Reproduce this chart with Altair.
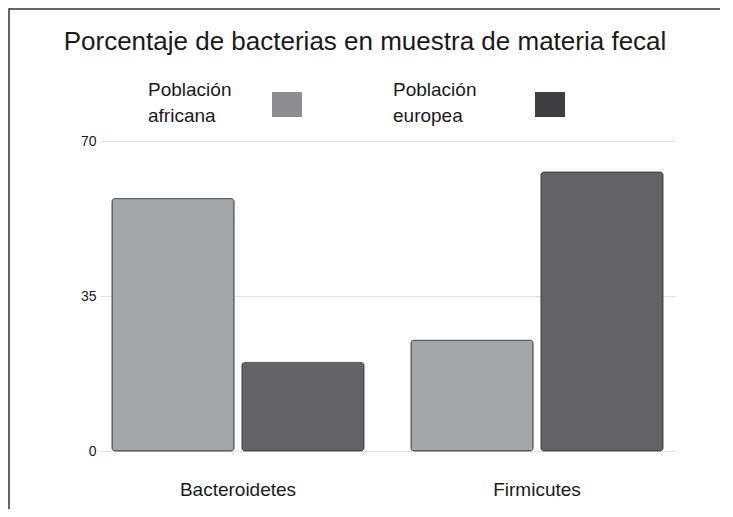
import altair as alt
import pandas as pd

title = "Porcentaje de bacterias en muestra de materia fecal"
grupos = ["Bacteroidetes", "Firmicutes"]
poblaciones = ["Población africana", "Población europea"]
leyenda = ["Población\nafricana", "Población\neuropea"]
africana = [57, 25]
europea = [20, 63]
colores_barras = ["#a4a6a9", "#636366"]
colores_leyenda = ["#8e8e90", "#3e3e40"]
y_ticks = [0, 35, 70]

rows = []
for i, g in enumerate(grupos):
    rows.append({"Grupo": g, "Población": poblaciones[0], "Valor": africana[i]})
    rows.append({"Grupo": g, "Población": poblaciones[1], "Valor": europea[i]})
df = pd.DataFrame(rows)

FONT = "Liberation Sans, Arial"

bars = alt.Chart(df).mark_bar(
    cornerRadius=3, stroke="#3a3a3a", strokeWidth=0.8
).encode(
    x=alt.X("Grupo:N", sort=grupos, title=None,
            scale=alt.Scale(paddingInner=0.157, paddingOuter=0.04),
            axis=alt.Axis(labelAngle=0, labelFontSize=19, labelColor="#1a1a1a",
                          labelPadding=29, ticks=False, domain=False, grid=False,
                          labelFont=FONT)),
    xOffset=alt.XOffset("Población:N", sort=poblaciones,
                        scale=alt.Scale(paddingInner=0.06)),
    y=alt.Y("Valor:Q", title=None,
            scale=alt.Scale(domain=[0, 70], nice=False),
            axis=alt.Axis(values=y_ticks, labelFontSize=14, labelColor="#1a1a1a",
                          ticks=False, domain=False, labelPadding=4,
                          gridColor="#e2e2e2", gridWidth=1, labelFont=FONT)),
    color=alt.Color("Población:N", sort=poblaciones,
                    scale=alt.Scale(domain=poblaciones, range=colores_barras),
                    legend=None),
)

layers = [bars]

# manual legend (label left of swatch)
text_x = [48, 293]
sq_x = [172, 435]
for i in range(2):
    ldf = pd.DataFrame({"t": [leyenda[i]]})
    layers.append(
        alt.Chart(ldf).mark_text(align="left", baseline="top", fontSize=19,
                                 lineBreak="\n", lineHeight=26, font=FONT,
                                 color="#1a1a1a").encode(
            text="t:N", x=alt.value(text_x[i]), y=alt.value(-60))
    )
    layers.append(
        alt.Chart(ldf).mark_rect(color=colores_leyenda[i]).encode(
            x=alt.value(sq_x[i]), x2=alt.value(sq_x[i] + 30),
            y=alt.value(-49), y2=alt.value(-24))
    )

# title
tdf = pd.DataFrame({"t": [title]})
layers.append(
    alt.Chart(tdf).mark_text(align="center", baseline="middle", fontSize=26,
                             font=FONT, color="#1a1a1a").encode(
        text="t:N", x=alt.value(265), y=alt.value(-99))
)

# frame
layers.append(
    alt.Chart(tdf).mark_rect(fill="white", fillOpacity=0, stroke="#333",
                             strokeWidth=1.5, strokeOpacity=1).encode(
        x=alt.value(-91), x2=alt.value(625), y=alt.value(-132), y2=alt.value(385))
)

chart = alt.layer(*layers).properties(
    width=575, height=310,
    autosize=alt.AutoSizeParams(type="none"),
    padding={"left": 92, "top": 133, "right": 45, "bottom": 58},
    background="white",
).configure_view(strokeWidth=0, stroke="transparent")

chart.save("out.html", embed_options={"renderer": "svg", "actions": False})
